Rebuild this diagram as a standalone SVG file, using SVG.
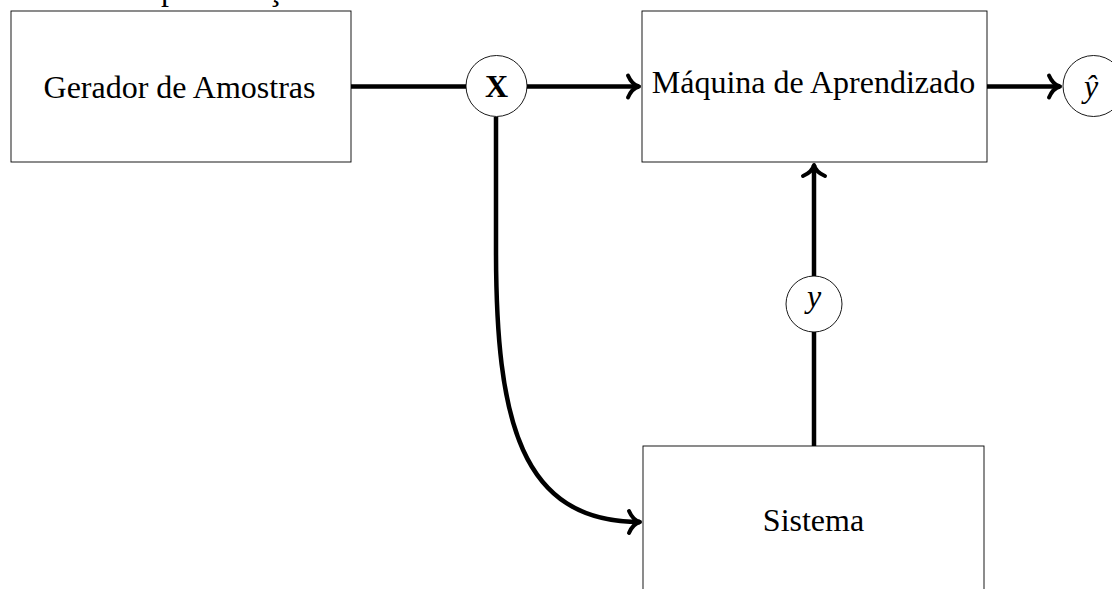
<svg xmlns="http://www.w3.org/2000/svg" width="1112" height="589" viewBox="0 0 1112 589">
<style>
.box{fill:#fff;stroke:#000;stroke-width:0.9}
.circ{fill:#fff;stroke:#000;stroke-width:0.9}
.lbl{font-family:"Liberation Serif","Times New Roman",serif;font-size:32px;fill:#000;text-anchor:middle}
.edge{fill:none;stroke:#000;stroke-width:4.5}
</style>
<defs>
<marker id="arr" markerUnits="userSpaceOnUse" viewBox="-16 -16 20 32" markerWidth="20" markerHeight="32" refX="0" refY="0" orient="auto" overflow="visible">
<path d="M-11,-11 C-8,-4 -4,-1 0,0 C-4,1 -8,4 -11,11" fill="none" stroke="#000" stroke-width="4" stroke-linecap="round" stroke-linejoin="round"/>
</marker>
</defs>
<rect width="1112" height="589" fill="#fff"/>
<text class="lbl" x="218.7" y="-0.5">Representação</text>
<g id="connectors">
<line class="edge" x1="351" y1="86.5" x2="466" y2="86.5"/>
<line class="edge" x1="527" y1="86.5" x2="639" y2="86.5" marker-end="url(#arr)"/>
<line class="edge" x1="987" y1="86.5" x2="1060" y2="86.5" marker-end="url(#arr)"/>
<path class="edge" d="M496,117 L496,250 C496,420 520,522 640,522" marker-end="url(#arr)"/>
<line class="edge" x1="814" y1="446" x2="814" y2="332"/>
<line class="edge" x1="814" y1="276" x2="814" y2="165" marker-end="url(#arr)"/>
</g>
<g id="gerador">
<rect class="box" x="11" y="11" width="340" height="151"/>
<text class="lbl" x="179.5" y="97.5">Gerador de Amostras</text>
</g>
<g id="maquina">
<rect class="box" x="642" y="11" width="345" height="151"/>
<text class="lbl" x="813.5" y="93">Máquina de Aprendizado</text>
</g>
<g id="sistema">
<rect class="box" x="643" y="446" width="341" height="160"/>
<text class="lbl" x="813.5" y="531">Sistema</text>
</g>
<g id="X">
<circle class="circ" cx="496.5" cy="86" r="30.5"/>
<text class="lbl" x="496.5" y="97" font-weight="bold">X</text>
</g>
<g id="yhat">
<circle class="circ" cx="1093.5" cy="86" r="30.5"/>
<text class="lbl" x="1091" y="97" font-style="italic">ŷ</text>
</g>
<g id="y">
<circle class="circ" cx="814" cy="304" r="28"/>
<text class="lbl" x="814" y="307" font-style="italic">y</text>
</g>
</svg>
